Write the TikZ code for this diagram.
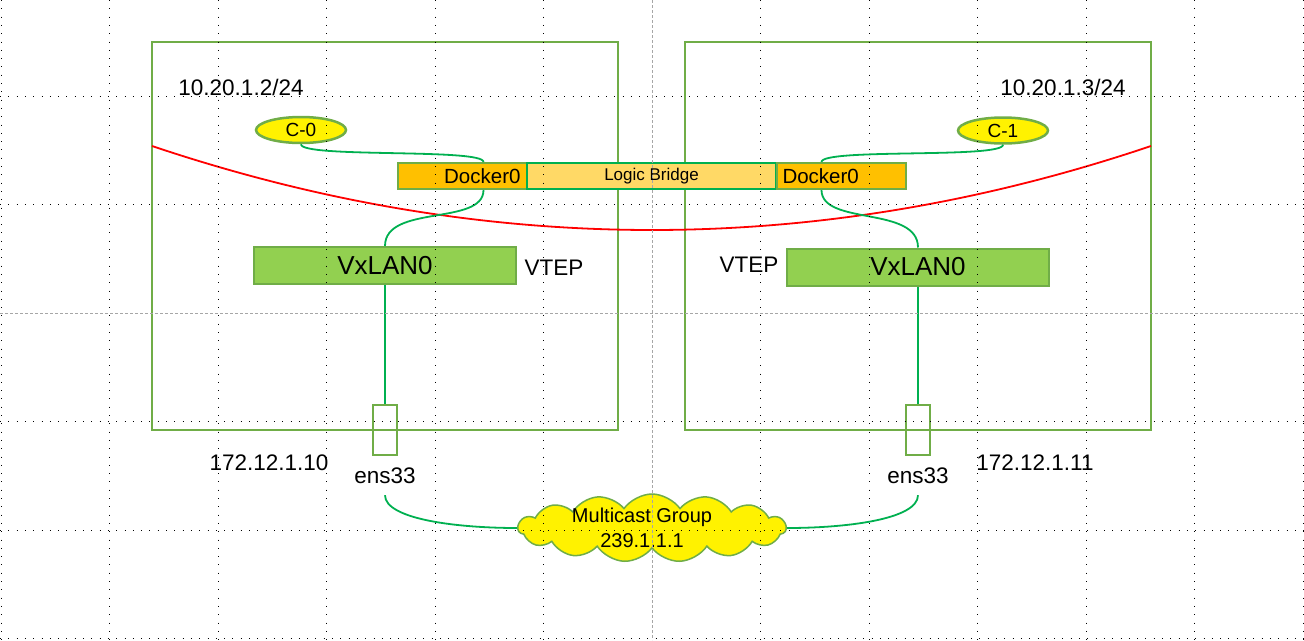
\documentclass[tikz,border=0pt]{standalone}
\usepackage{fontspec}
\setmainfont{Liberation Sans}
\usetikzlibrary{shapes.geometric,shapes.symbols}
\definecolor{hostgreen}{HTML}{70AD47}
\definecolor{linkgreen}{HTML}{00B050}
\definecolor{dockorange}{HTML}{FFC000}
\definecolor{bridgeyellow}{HTML}{FFD966}
\definecolor{vxgreen}{HTML}{92D050}

\begin{document}
\begin{tikzpicture}[x=1pt,y=-1pt,
  host/.style={draw=hostgreen,line width=1.6pt,minimum width=466pt,minimum height=388pt,inner sep=0pt},
  cont/.style={ellipse,draw=hostgreen,line width=2.5pt,fill=yellow,minimum width=90pt,minimum height=26pt,inner sep=0pt,font=\fontsize{19}{22}\selectfont},
  dock/.style={draw=hostgreen,line width=2pt,fill=dockorange,minimum height=26pt,text width=117pt,inner xsep=6pt,inner ysep=0pt,font=\fontsize{20.5}{24}\selectfont},
  bridge/.style={draw=linkgreen,line width=2pt,fill=bridgeyellow,minimum width=249pt,minimum height=26pt,inner sep=0pt,font=\fontsize{17}{20}\selectfont},
  vx/.style={draw=hostgreen,line width=2pt,fill=vxgreen,minimum width=262pt,minimum height=37pt,inner sep=0pt,font=\fontsize{26}{30}\selectfont},
  port/.style={draw=hostgreen,line width=2pt,minimum width=24pt,minimum height=50pt,inner sep=0pt},
  txt/.style={font=\fontsize{22.5}{26}\selectfont,inner sep=0pt},
  nic/.style={txt,inner ysep=11pt},
  link/.style={draw=linkgreen,line width=1.8pt},
  grid line/.style={dash pattern=on 1pt off 7.3pt,line width=0.9pt}
]
\useasboundingbox (0,0) rectangle (1304,640);

% Hosts
\node[host] (hostL) at (385,236) {};
\node[host] (hostR) at (918,236) {};
\node[txt] (ipL) at (241,87) {10.20.1.2/24};
\node[txt] (ipR) at (1063,87) {10.20.1.3/24};

% Containers
\node[cont] (c0) at (301,130) {C-0};
\node[cont] (c1) at (1003,130.5) {C-1};

% Bridge
\node[dock,align=right] (dockL) at (462,176) {Docker0};
\node[bridge] (bridge) at (651.5,176) {Logic Bridge};
\node[dock,align=left] (dockR) at (841,176) {Docker0};

% Red curve
\draw[red,line width=1.8pt] (152,146) .. controls (485,258) and (819,258) .. (1151,146);

% VTEPs
\node[vx] (vxL) at (385,265.5) {VxLAN0};
\node[vx] (vxR) at (918,267) {VxLAN0};
\node[txt] (vtepL) at (554,268) {VTEP};
\node[txt] (vtepR) at (749,265) {VTEP};

% Ports
\node[port] (portL) at (385,430) {};
\node[port] (portR) at (918,430) {};
\node[nic] (ensL) at (385,476) {ens33};
\node[nic] (ensR) at (918,476) {ens33};
\node[txt] (ethL) at (269,463) {172.12.1.10};
\node[txt] (ethR) at (1035,463) {172.12.1.11};

% Multicast group
\node[cloud,cloud puffs=15,cloud puff arc=110,cloud ignores aspect,draw=hostgreen,fill=yellow,line width=1.5pt,
  minimum width=268pt,minimum height=68pt,inner sep=0pt] (mcast) at (652,528) {};
\node[align=center,inner sep=0pt,font=\fontsize{20}{25}\selectfont] (mtext) at (642,528) {Multicast Group\\239.1.1.1};

% Links
\draw[link] (c0.south) .. controls +(0,14) and +(0,-14) .. ([xshift=-44pt]dockL.north east);
\draw[link] ([xshift=-44pt]dockL.south east) .. controls +(0,36) and +(0,-42) .. (vxL.north);
\draw[link] (c1.south) .. controls +(0,14) and +(0,-14) .. ([xshift=46pt]dockR.north west);
\draw[link] ([xshift=46pt]dockR.south west) .. controls +(0,36) and +(0,-42) .. (vxR.north);
\draw[link] (vxL.south) -- (portL.north);
\draw[link] (vxR.south) -- (portR.north);
\draw[link] (ensL.south) .. controls +(0,24) and +(-60,0) .. (mcast.west);
\draw[link] (mcast.east) .. controls +(60,0) and +(0,24) .. (ensR.south);

% Grid
\foreach \gx in {1,109.5,218,326.5,435,543.5,760.5,869,977.5,1086,1194.5,1303}
  \draw[grid line] (\gx,0) -- (\gx,640);
\foreach \gy in {96,204.5,421.5,530,638.5}
  \draw[grid line] (0,\gy) -- (1304,\gy);
\draw[gray!70,dash pattern=on 3pt off 2pt,line width=0.8pt] (652,0) -- (652,640) (0,313) -- (1304,313);

\end{tikzpicture}
\end{document}
